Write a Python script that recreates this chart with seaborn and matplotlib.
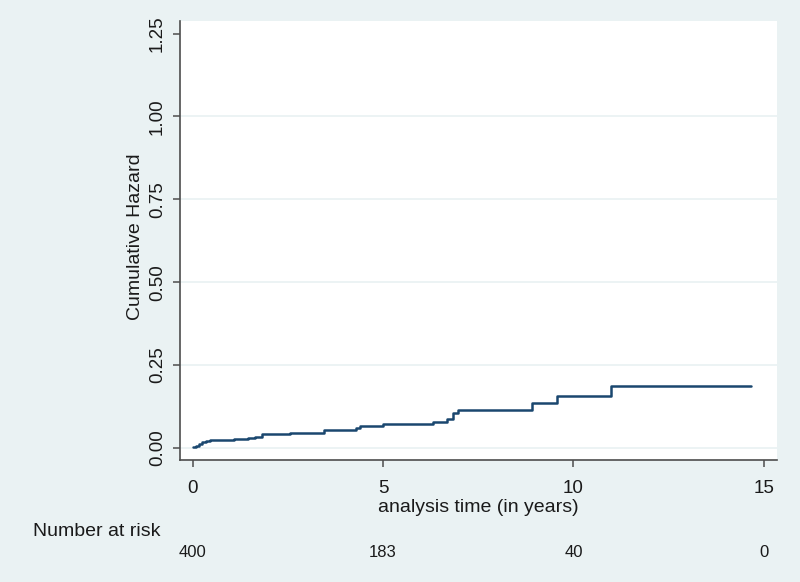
import matplotlib
matplotlib.use('Agg')
import matplotlib.pyplot as plt
import matplotlib.transforms as mtrans
import seaborn as sns
import pandas as pd

# ---- data ----
times = [0.02, 0.09, 0.17, 0.25, 0.35, 0.45, 1.08, 1.46, 1.64, 1.81, 2.55, 3.45,
         4.30, 4.40, 5.00, 6.30, 6.68, 6.83, 6.98, 8.92, 9.57, 10.99, 14.66]
cumhaz = [0.003, 0.007, 0.012, 0.017, 0.020, 0.023, 0.026, 0.029, 0.032, 0.041, 0.044, 0.053,
          0.060, 0.067, 0.073, 0.079, 0.088, 0.105, 0.115, 0.137, 0.158, 0.188, 0.188]
xticks = [0, 5, 10, 15]
yticks = [0.00, 0.25, 0.50, 0.75, 1.00, 1.25]
grid_levels = [0.00, 0.25, 0.50, 0.75, 1.00]
risk_times = [0, 5, 10, 15]
risk_counts = [400, 183, 40, 0]

BG = '#EAF2F3'
LINE = '#1a476f'
AXC = '#4d4d4d'

sns.set_theme(style='white')
plt.rcParams['font.family'] = ['Liberation Sans', 'DejaVu Sans']

df = pd.DataFrame({'time': times, 'cumhaz': cumhaz})

fig = plt.figure(figsize=(8, 5.82), dpi=100, facecolor=BG)
ax = fig.add_axes([0.225, 0.2088, 0.746, 0.7556])
ax.set_facecolor('white')

for g in grid_levels:
    ax.axhline(g, color=BG, lw=1.3, zorder=0)

sns.lineplot(data=df, x='time', y='cumhaz', drawstyle='steps-post', color=LINE,
             lw=1.8, ax=ax, estimator=None, legend=False)

ax.set_xlim(-0.333, 15.34)
ax.set_ylim(-0.0377, 1.2886)
ax.set_xticks(xticks)
ax.set_xticklabels([str(t) for t in xticks])
ax.set_yticks(yticks)
ax.set_yticklabels([f'{t:.2f}' for t in yticks], rotation=90, va='center')

for s in ['top', 'right']:
    ax.spines[s].set_visible(False)
for s in ['left', 'bottom']:
    ax.spines[s].set_color(AXC)
    ax.spines[s].set_linewidth(1.2)

ax.tick_params(axis='both', which='major', direction='out', length=5.2, width=1.1,
               color=AXC, labelsize=13.5, labelcolor='#1a1a1a', pad=5,
               left=True, bottom=True)
ax.tick_params(axis='x', pad=8.5)

ax.set_xlabel('analysis time (in years)', fontsize=14, color='#1a1a1a')
ax.xaxis.label.set_va('center')
ax.xaxis.set_label_coords(0.5, -0.1065)
ax.set_ylabel('Cumulative Hazard', fontsize=14, color='#1a1a1a')
ax.yaxis.label.set_va('center')
ax.yaxis.set_label_coords(-0.0754, 0.51)

fig.text(33 / 800, 0.0864, 'Number at risk', fontsize=14, color='#1a1a1a',
         ha='left', va='center')
trans = mtrans.blended_transform_factory(ax.transData, fig.transFigure)
for t, n in zip(risk_times, risk_counts):
    ax.text(t, 0.0515, str(n), transform=trans, fontsize=12, color='#1a1a1a',
            ha='center', va='center', clip_on=False)

fig.savefig('out.png', dpi=100, facecolor=BG)
